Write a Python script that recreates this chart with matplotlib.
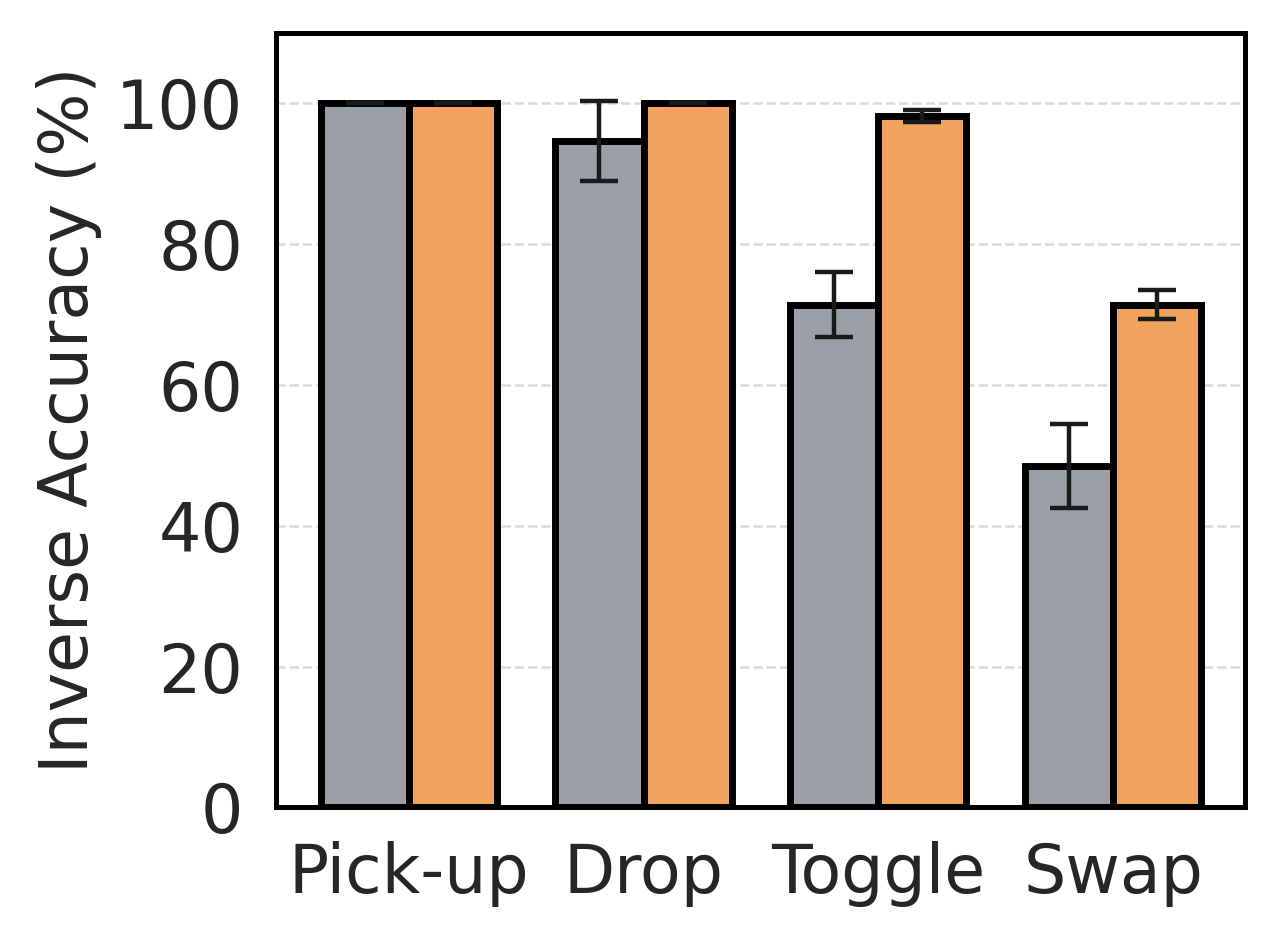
"""Inverse accuracy bar chart with error bars."""

import matplotlib
matplotlib.use("Agg")
import matplotlib.pyplot as plt
import numpy as np

tasks = ["Pick-up", "Drop", "Toggle", "Swap"]
base_mean = [100.0, 94.7, 71.4, 48.5]
base_err = [0.0, 5.7, 4.6, 6.0]
ours_mean = [100.0, 100.0, 98.2, 71.4]
ours_err = [0.0, 0.0, 0.8, 2.1]


def main() -> None:
    plt.rcParams["font.family"] = ["DejaVu Sans"]
    text_color = "#262626"

    fig = plt.figure(figsize=(6.4, 4.71), dpi=200)
    ax = fig.add_axes([0.216, 0.143, 0.757, 0.822])

    x = np.arange(len(tasks))
    width = 0.375
    bar_kw = dict(edgecolor="black", linewidth=2.5, zorder=3,
                  error_kw=dict(ecolor="#1a1a1a", elinewidth=1.6, capsize=7,
                                capthick=1.6, zorder=4))

    ax.bar(x - width / 2, base_mean, width, yerr=base_err, color="#9aa0a6", **bar_kw)
    ax.bar(x + width / 2, ours_mean, width, yerr=ours_err, color="#f0a35e", **bar_kw)

    ax.set_ylim(0, 110)
    ax.set_yticks([0, 20, 40, 60, 80, 100])
    ax.set_xticks(x)
    ax.set_xticklabels(tasks)
    ax.set_ylabel("Inverse Accuracy (%)", fontsize=24, color=text_color, labelpad=5)
    ax.tick_params(axis="both", labelsize=24, length=0, labelcolor=text_color)
    ax.tick_params(axis="y", pad=12)
    ax.tick_params(axis="x", pad=12)

    ax.yaxis.grid(True, linestyle="--", color="#d9d9d9", linewidth=0.9, zorder=0)
    ax.set_axisbelow(True)
    for spine in ax.spines.values():
        spine.set_linewidth(1.8)
        spine.set_color("black")

    fig.savefig("out.png", dpi=200)
    plt.close(fig)


if __name__ == "__main__":
    main()
